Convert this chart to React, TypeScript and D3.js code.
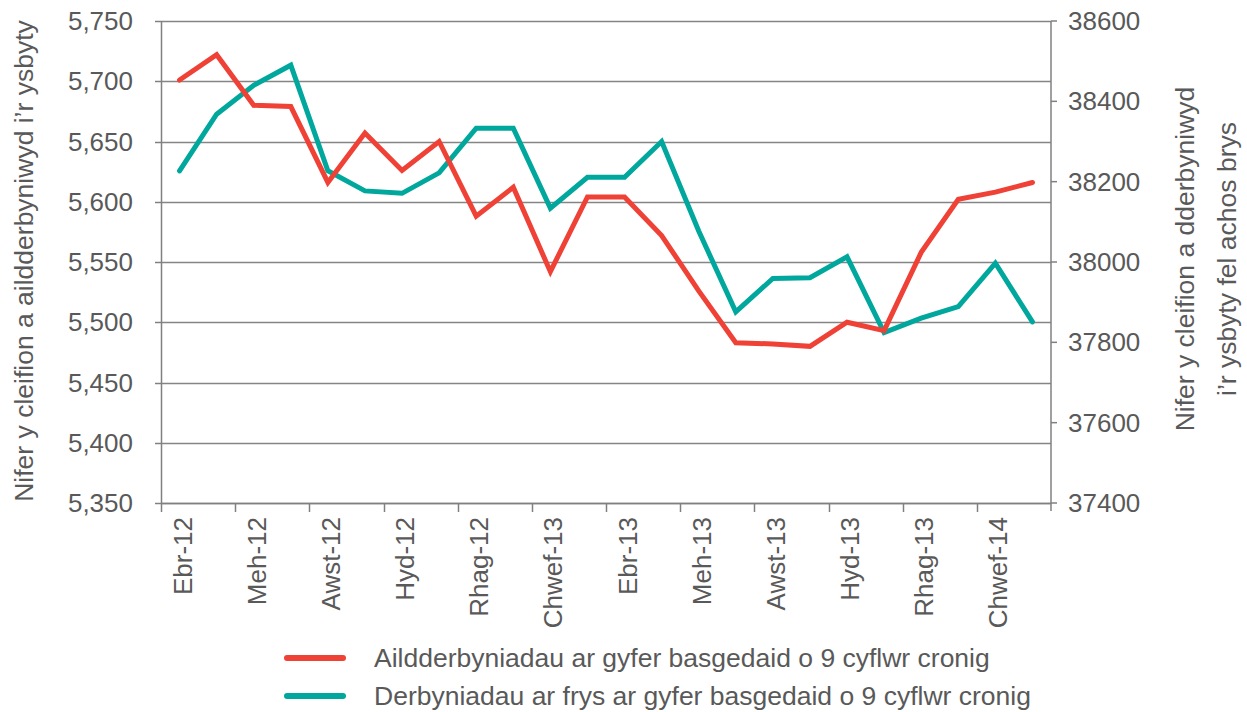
import React, { useEffect, useRef } from "react";
import * as d3 from "d3";

// months Apr 2012 - Mar 2014 (Welsh abbreviations)
const months = [
  "Ebr-12", "Mai-12", "Meh-12", "Gorff-12", "Awst-12", "Medi-12",
  "Hyd-12", "Tach-12", "Rhag-12", "Ion-13", "Chwef-13", "Maw-13",
  "Ebr-13", "Mai-13", "Meh-13", "Gorff-13", "Awst-13", "Medi-13",
  "Hyd-13", "Tach-13", "Rhag-13", "Ion-14", "Chwef-14", "Maw-14",
];

// readmissions (left axis)
const readmissions = [
  5701, 5722, 5680, 5679, 5616, 5657, 5626, 5650, 5588, 5612, 5542, 5604,
  5604, 5572, 5526, 5483, 5482, 5480, 5500, 5493, 5558, 5602, 5608, 5616,
];

// emergency admissions (right axis)
const emergency = [
  38227, 38368, 38440, 38490, 38227, 38177, 38171, 38222, 38333, 38333, 38134, 38211,
  38211, 38300, 38077, 37876, 37959, 37961, 38013, 37824, 37860, 37889, 37997, 37851,
];

const leftTicks = [5350, 5400, 5450, 5500, 5550, 5600, 5650, 5700, 5750];
const rightTicks = [37400, 37600, 37800, 38000, 38200, 38400, 38600];

const seriesNames = [
  "Aildderbyniadau ar gyfer basgedaid o 9 cyflwr cronig",
  "Derbyniadau ar frys ar gyfer basgedaid o 9 cyflwr cronig",
];

const RED = "#EF4136";
const TEAL = "#00A79D";
const TEXT = "#595959";
const FONT = "'Liberation Sans', Arial, sans-serif";
const FS = 26;

const App = () => {
  const svgRef = useRef<SVGSVGElement>(null);

  useEffect(() => {
    const svg = d3.select(svgRef.current);
    svg.selectAll("*").remove();

    const left = 161;
    const right = 1051;
    const top = 21;
    const bottom = 503;

    const x = d3.scaleBand<string>().domain(months).range([left, right]).padding(0);
    const yL = d3.scaleLinear().domain([5350, 5750]).range([bottom, top]);
    const yR = d3.scaleLinear().domain([37400, 38600]).range([bottom, top]);

    const g = svg.append("g").attr("font-family", FONT);

    // gridlines
    g.append("g")
      .selectAll("line")
      .data(leftTicks)
      .join("line")
      .attr("x1", left)
      .attr("x2", right)
      .attr("y1", (d) => Math.round(yL(d)) + 0.5)
      .attr("y2", (d) => Math.round(yL(d)) + 0.5)
      .attr("stroke", "#858585")
      .attr("stroke-width", 1.5);

    // left axis
    const axL = g.append("g");
    axL.append("line")
      .attr("x1", left + 0.5).attr("x2", left + 0.5)
      .attr("y1", top).attr("y2", bottom)
      .attr("stroke", "#808080").attr("stroke-width", 1.5);
    axL.selectAll("line.tick")
      .data(leftTicks)
      .join("line")
      .attr("class", "tick")
      .attr("x1", left - 6).attr("x2", left)
      .attr("y1", (d) => Math.round(yL(d)) + 0.5)
      .attr("y2", (d) => Math.round(yL(d)) + 0.5)
      .attr("stroke", "#808080").attr("stroke-width", 1.5);
    axL.selectAll("text")
      .data(leftTicks)
      .join("text")
      .attr("x", 133)
      .attr("y", (d) => yL(d))
      .attr("text-anchor", "end")
      .attr("dominant-baseline", "central")
      .attr("font-size", FS)
      .attr("fill", TEXT)
      .text((d) => d3.format(",")(d));

    // right axis
    const axR = g.append("g");
    axR.append("line")
      .attr("x1", right).attr("x2", right)
      .attr("y1", top).attr("y2", bottom + 8)
      .attr("stroke", "#808080").attr("stroke-width", 1.5);
    axR.selectAll("line.tick")
      .data(rightTicks)
      .join("line")
      .attr("class", "tick")
      .attr("x1", right).attr("x2", right + 6)
      .attr("y1", (d) => yR(d)).attr("y2", (d) => yR(d))
      .attr("stroke", "#808080").attr("stroke-width", 1.5);
    axR.selectAll("text")
      .data(rightTicks)
      .join("text")
      .attr("x", 1068)
      .attr("y", (d) => yR(d))
      .attr("dominant-baseline", "central")
      .attr("font-size", FS)
      .attr("fill", TEXT)
      .text((d) => String(d));

    // x axis
    const axX = g.append("g");
    axX.append("line")
      .attr("x1", left).attr("x2", right)
      .attr("y1", bottom + 0.5).attr("y2", bottom + 0.5)
      .attr("stroke", "#808080").attr("stroke-width", 1.5);
    const shown = months.filter((_, i) => i % 2 === 0);
    axX.selectAll("line.tick")
      .data(shown)
      .join("line")
      .attr("class", "tick")
      .attr("x1", (d) => Math.round(x(d)!) + 0.5)
      .attr("x2", (d) => Math.round(x(d)!) + 0.5)
      .attr("y1", bottom).attr("y2", bottom + 9)
      .attr("stroke", "#808080").attr("stroke-width", 1.5);
    axX.selectAll("text")
      .data(shown)
      .join("text")
      .attr("transform", (d) => `translate(${x(d)! + x.bandwidth() / 2 + 3}, 517) rotate(-90)`)
      .attr("text-anchor", "end")
      .attr("dominant-baseline", "central")
      .attr("font-size", FS)
      .attr("fill", TEXT)
      .text((d) => d);

    // lines
    const cx = (i: number) => x(months[i])! + x.bandwidth() / 2;
    const lineL = d3.line<number>().x((_, i) => cx(i)).y((d) => yL(d));
    const lineR = d3.line<number>().x((_, i) => cx(i)).y((d) => yR(d));

    g.append("path")
      .datum(emergency)
      .attr("d", lineR)
      .attr("fill", "none")
      .attr("stroke", TEAL)
      .attr("stroke-width", 5)
      .attr("stroke-linejoin", "miter")
      .attr("stroke-linecap", "round");

    g.append("path")
      .datum(readmissions)
      .attr("d", lineL)
      .attr("fill", "none")
      .attr("stroke", RED)
      .attr("stroke-width", 5)
      .attr("stroke-linejoin", "miter")
      .attr("stroke-linecap", "round");

    // axis titles
    g.append("text")
      .attr("transform", `translate(24, 261) rotate(-90)`)
      .attr("text-anchor", "middle")
      .attr("dominant-baseline", "central")
      .attr("font-size", 26.5)
      .attr("fill", TEXT)
      .text("Nifer y cleifion a aildderbyniwyd i’r ysbyty");

    const rt = g.append("text")
      .attr("transform", `translate(1185, 259) rotate(-90)`)
      .attr("text-anchor", "middle")
      .attr("font-size", 26.5)
      .attr("fill", TEXT);
    rt.append("tspan").attr("x", 0).attr("dy", "0.35em").text("Nifer y cleifion a dderbyniwyd");
    rt.append("tspan").attr("x", 0).attr("dy", 42).text("i’r ysbyty fel achos brys");

    // legend
    const legend = g.append("g");
    const colors = [RED, TEAL];
    const legendY = [658, 696];
    seriesNames.forEach((name, i) => {
      legend.append("line")
        .attr("x1", 287).attr("x2", 343)
        .attr("y1", legendY[i]).attr("y2", legendY[i])
        .attr("stroke", colors[i])
        .attr("stroke-width", 6)
        .attr("stroke-linecap", "round");
      legend.append("text")
        .attr("x", 374)
        .attr("y", legendY[i])
        .attr("dominant-baseline", "central")
        .attr("font-size", 26.5)
        .attr("fill", TEXT)
        .text(name);
    });
  }, []);

  return (
    <svg
      ref={svgRef}
      width={1247}
      height={712}
      style={{ position: "absolute", left: 0, top: 0, background: "#fff" }}
    />
  );
};

export default App;
